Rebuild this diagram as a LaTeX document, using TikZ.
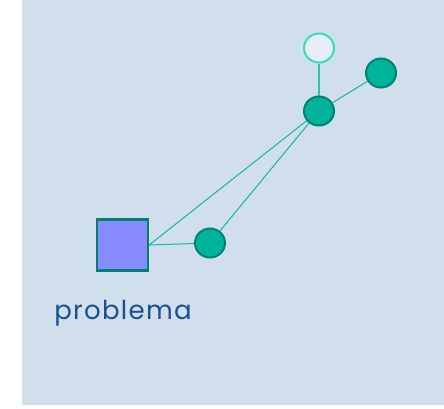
\documentclass[tikz,border=0pt]{standalone}
\usepackage{fontspec}
\setmainfont{Poppins}
\newfontfamily\labelfont[LetterSpace=5]{Poppins}
\usetikzlibrary{shapes.geometric}
\definecolor{bgblue}{RGB}{209,222,235}
\definecolor{tealfill}{RGB}{0,179,155}
\definecolor{tealdark}{RGB}{0,130,112}
\definecolor{edgeteal}{RGB}{20,182,162}
\definecolor{edgemint}{RGB}{45,200,172}
\definecolor{paleFill}{RGB}{232,238,245}
\definecolor{paleRim}{RGB}{52,222,190}
\definecolor{boxfill}{RGB}{136,139,255}
\definecolor{labelblue}{RGB}{24,80,145}
\pgfdeclarelayer{back}
\pgfdeclarelayer{edges}
\pgfsetlayers{back,edges,main}
\begin{document}
\begin{tikzpicture}[x=1pt,y=-1pt,
  dot/.style={ellipse,minimum width=30pt,minimum height=29pt,inner sep=0pt,
    fill=tealfill,draw=tealdark,line width=2pt},
  paledot/.style={dot,fill=paleFill,draw=paleRim},
  probbox/.style={rectangle,minimum size=51pt,inner sep=0pt,
    fill=boxfill,draw=tealdark,line width=2.2pt},
  link/.style={draw=edgeteal,line width=1pt},
  stem/.style={draw=edgemint,line width=1.5pt},
  lbl/.style={text=labelblue,font=\labelfont\fontsize{26}{30}\selectfont,inner sep=0pt}]
\useasboundingbox (0,0) rectangle (444,408);
% panel
\begin{pgfonlayer}{back}
\fill[white] (0,0) rectangle (444,408);
\fill[bgblue] (22,0) rectangle (444,405);
\end{pgfonlayer}
% nodes
\node[probbox] (p) at (122.5,245) {};
\node[dot] (a) at (210,243) {};
\node[dot] (b) at (319,111) {};
\node[paledot] (c) at (319,48) {};
\node[dot] (d) at (381,73) {};
\node[lbl,anchor=base] (t) at (123,319) {problema};
% connectors
\begin{pgfonlayer}{edges}
\path[link] (p.east) -- (a);
\path[link] (p.east) -- (b);
\path[link] (a) -- (b);
\path[stem] (b) -- (c);
\path[link] (b) -- (d);
\end{pgfonlayer}
\end{tikzpicture}
\end{document}
